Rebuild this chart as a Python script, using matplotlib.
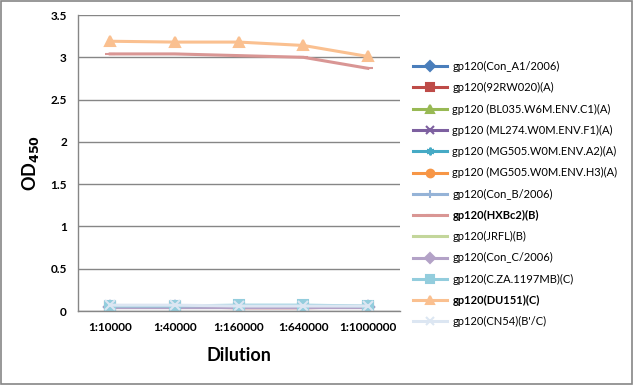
import numpy as np
import matplotlib.pyplot as plt
from matplotlib.patches import Rectangle

plt.rcParams['font.family'] = ['Lato', 'DejaVu Sans']

dilutions = ['1:10000', '1:40000', '1:160000', '1:640000', '1:1000000']

con_a1 = [0.05, 0.05, 0.05, 0.05, 0.05]
rw020 = [0.05, 0.05, 0.04, 0.04, 0.05]
bl035 = [0.06, 0.06, 0.06, 0.06, 0.06]
ml274 = [0.05, 0.05, 0.05, 0.05, 0.05]
mg505_a2 = [0.06, 0.06, 0.06, 0.06, 0.06]
mg505_h3 = [0.05, 0.05, 0.05, 0.05, 0.05]
con_b = [0.05, 0.05, 0.05, 0.05, 0.05]
hxbc2 = [3.04, 3.04, 3.02, 3.00, 2.87]
jrfl = [0.06, 0.06, 0.06, 0.06, 0.06]
con_c = [0.05, 0.05, 0.05, 0.05, 0.05]
cza = [0.06, 0.06, 0.07, 0.07, 0.06]
du151 = [3.19, 3.18, 3.18, 3.14, 3.01]
cn54 = [0.07, 0.07, 0.06, 0.06, 0.06]

series = [
    ('gp120(Con_A1/2006)', con_a1, '#4A7EBB', 'D', False),
    ('gp120(92RW020)(A)', rw020, '#BE4B48', 's', False),
    ('gp120 (BL035.W6M.ENV.C1)(A)', bl035, '#98B954', '^', False),
    ('gp120 (ML274.W0M.ENV.F1)(A)', ml274, '#7D60A0', 'x', False),
    ('gp120 (MG505.W0M.ENV.A2)(A)', mg505_a2, '#46AAC5', (6, 2, 0), False),
    ('gp120 (MG505.W0M.ENV.H3)(A)', mg505_h3, '#F79646', 'o', False),
    ('gp120(Con_B/2006)', con_b, '#95B3D7', '+', False),
    ('gp120(HXBc2)(B)', hxbc2, '#D99694', '_', True),
    ('gp120(JRFL)(B)', jrfl, '#C3D69B', None, False),
    ('gp120(Con_C/2006)', con_c, '#B3A2C7', 'D', False),
    ('gp120(C.ZA.1197MB)(C)', cza, '#93CDDD', 's', False),
    ('gp120(DU151)(C)', du151, '#FAC090', '^', True),
    ('gp120(CN54)(B\'/C)', cn54, '#DCE6F2', 'x', False),
]

fig = plt.figure(figsize=(6.34, 3.85), dpi=100)
ax = fig.add_axes([0.123, 0.192, 0.508, 0.769])

x = np.arange(len(dilutions))
for name, vals, col, mk, bold in series:
    ax.plot(x, vals, color=col, lw=2.2, marker=mk, markersize=6.5,
            markeredgewidth=1.5, label=name)

ax.set_xlim(-0.5, len(dilutions) - 0.5)
ax.set_ylim(0, 3.5)
ax.set_yticks(np.arange(0, 3.51, 0.5))
ax.set_yticklabels(['0', '0.5', '1', '1.5', '2', '2.5', '3', '3.5'])
ax.set_xticks(x)
ax.set_xticklabels(dilutions)
ax.tick_params(length=0, labelsize=8.5, pad=8)
for t in ax.get_xticklabels() + ax.get_yticklabels():
    t.set_fontweight('bold')
ax.grid(axis='y', color='#868686', lw=1)
ax.set_axisbelow(True)
for s in ['top', 'right']:
    ax.spines[s].set_visible(False)
for s in ['left', 'bottom']:
    ax.spines[s].set_color('#868686')
    ax.spines[s].set_linewidth(1)

ax.set_xlabel('Dilution', fontsize=13, fontweight='bold', labelpad=10)
ax.set_ylabel('OD$_{\\mathbf{450}}$', fontsize=13, fontweight='bold', labelpad=7)

leg = fig.legend(loc='upper left', bbox_to_anchor=(0.645, 0.853), frameon=False,
                 fontsize=8, labelspacing=0.92, handlelength=3.0, handletextpad=0.5,
                 borderaxespad=0, markerscale=0.85)
for txt, s in zip(leg.get_texts(), series):
    if s[4]:
        txt.set_fontweight('bold')

fig.patches.append(Rectangle((0.001, 0.002), 0.996, 0.995, transform=fig.transFigure,
                             fill=False, edgecolor='#868686', lw=1.2))

fig.savefig('out.png', dpi=100)
